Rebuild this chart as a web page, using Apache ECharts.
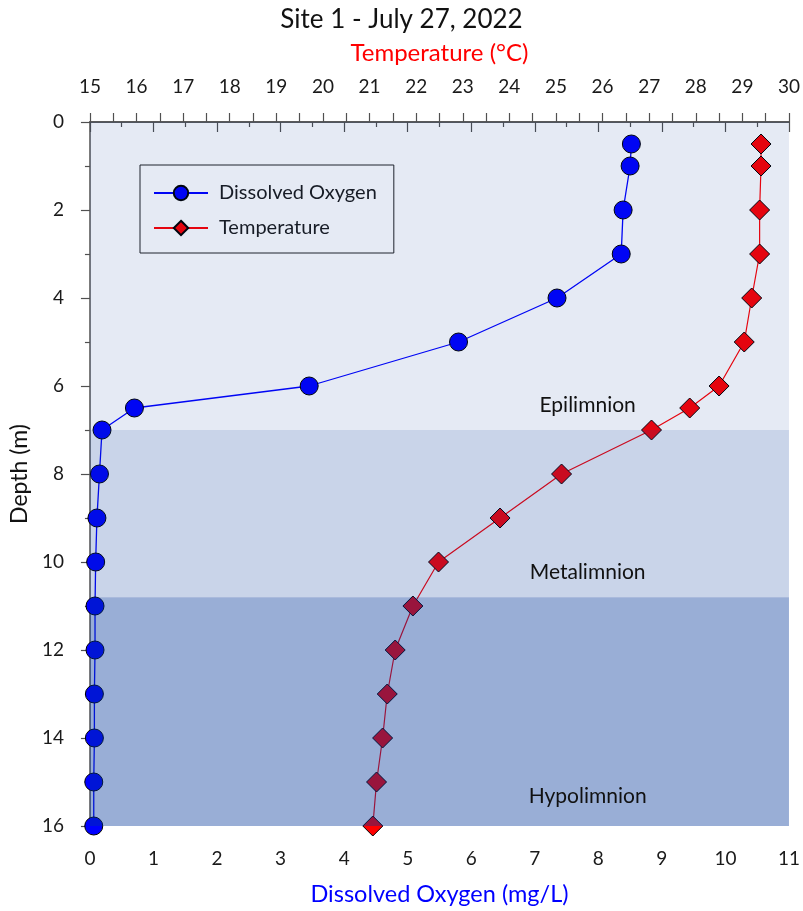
<!DOCTYPE html>
<html>
<head>
<meta charset="utf-8">
<script src="https://cdn.jsdelivr.net/npm/echarts@6/dist/echarts.min.js"></script>
<style>
html,body{margin:0;padding:0;background:#fff;}
#c{width:803px;height:911px;}
</style>
</head>
<body>
<div id="c"></div>
<script>
// Data
const depths = [0.5, 1, 2, 3, 4, 5, 6, 6.5, 7, 8, 9, 10, 11, 12, 13, 14, 15, 16];
const dissolvedOxygen = [8.52, 8.50, 8.39, 8.36, 7.35, 5.80, 3.45, 0.70, 0.19, 0.15, 0.11, 0.09, 0.08, 0.08, 0.07, 0.07, 0.06, 0.06];
const temperature = [29.40, 29.40, 29.37, 29.37, 29.20, 29.04, 28.50, 27.87, 27.05, 25.12, 23.80, 22.48, 21.93, 21.55, 21.38, 21.28, 21.15, 21.07];
const layerNames = ['Epilimnion', 'Metalimnion', 'Hypolimnion'];
const layerTop = [0, 7, 10.8];
const layerBottom = [7, 10.8, 16];
const doTicks = [0, 11, 1];      // min, max, interval
const tempTicks = [15, 30, 1];
const depthTicks = [0, 16, 2];

const layerAlpha = [0.1, 0.21, 0.4];
const layerLabelDist = [14, 14, 19];

const FONT = 'Lato';
const chart = echarts.init(document.getElementById('c'), null, {renderer: 'canvas'});

const axisLine = {show: true, lineStyle: {color: '#505050', width: 1.5}};
const labelStyle = {color: '#1a1a1a', fontSize: 19, fontFamily: FONT};

const option = {
  animation: false,
  backgroundColor: '#ffffff',
  title: {
    text: 'Site 1 - July 27, 2022',
    left: 'center', top: 2,
    textStyle: {fontFamily: FONT, fontSize: 26, fontWeight: 'normal', color: '#111'}
  },
  legend: {
    orient: 'vertical',
    left: 140, top: 165,
    padding: [18, 17, 15, 13],
    itemGap: 15,
    itemWidth: 54, itemHeight: 18,
    borderColor: '#222', borderWidth: 1,
    textStyle: {fontFamily: FONT, fontSize: 20, color: '#1a1a1a', padding: [0, 0, 0, 6]},
    data: ['Dissolved Oxygen', 'Temperature']
  },
  grid: {left: 88, right: 10, top: 122, bottom: 83, containLabel: false},
  xAxis: [
    {
      type: 'value', position: 'bottom',
      min: doTicks[0], max: doTicks[1], interval: doTicks[2],
      name: 'Dissolved Oxygen (mg/L)', nameLocation: 'middle', nameGap: 56,
      nameTextStyle: {color: '#0000ff', fontSize: 23.5, fontFamily: FONT},
      axisLine: axisLine,
      axisTick: {show: true, inside: false, length: 10, lineStyle: {color: '#505050', width: 1.2}},
      minorTick: {show: true, splitNumber: 2, length: 5, lineStyle: {color: '#505050', width: 1.2}},
      axisLabel: Object.assign({margin: 23}, labelStyle),
      splitLine: {show: false}
    },
    {
      type: 'value', position: 'top',
      min: tempTicks[0], max: tempTicks[1], interval: tempTicks[2],
      name: 'Temperature (°C)', nameLocation: 'middle', nameGap: 57,
      nameTextStyle: {color: '#ff0000', fontSize: 24, fontFamily: FONT},
      axisLine: axisLine,
      axisTick: {show: true, inside: false, length: 9, lineStyle: {color: '#505050', width: 1.2}},
      minorTick: {show: true, splitNumber: 2, length: 9, lineStyle: {color: '#505050', width: 1.2}},
      axisLabel: Object.assign({margin: 26}, labelStyle),
      splitLine: {show: false}
    }
  ],
  yAxis: {
    type: 'value', inverse: true,
    min: depthTicks[0], max: depthTicks[1], interval: depthTicks[2],
    name: 'Depth (m)', nameLocation: 'middle', nameGap: 56,
    nameTextStyle: {color: '#111', fontSize: 23, fontFamily: FONT},
    axisLine: axisLine,
    axisTick: {show: true, inside: false, length: 9, lineStyle: {color: '#505050', width: 1.2}},
    minorTick: {show: true, splitNumber: 2, length: 5, lineStyle: {color: '#505050', width: 1.2}},
    axisLabel: Object.assign({margin: 26}, labelStyle),
    splitLine: {show: false}
  },
  series: [
    {
      name: 'Dissolved Oxygen', type: 'line',
      xAxisIndex: 0, yAxisIndex: 0, z: 3,
      data: depths.map((d, i) => [dissolvedOxygen[i], d]),
      symbol: 'circle', symbolSize: 18, clip: false,
      itemStyle: {color: '#0000ff', borderColor: '#000', borderWidth: 1},
      lineStyle: {color: '#0000ff', width: 1.3}
    },
    {
      name: 'Temperature', type: 'line',
      xAxisIndex: 1, yAxisIndex: 0, z: 3,
      data: depths.map((d, i) => [temperature[i], d]),
      symbol: 'diamond', symbolSize: 20, clip: false,
      itemStyle: {color: '#ff0000', borderColor: '#000', borderWidth: 1},
      lineStyle: {color: '#ff0000', width: 1.2}
    },
    {
      name: 'layers', type: 'custom',
      xAxisIndex: 0, yAxisIndex: 0, z: 10, silent: true,
      encode: {x: -1, y: [0, 1]},
      data: layerNames.map((n, i) => [layerTop[i], layerBottom[i], i]),
      renderItem: function (params, api) {
        const cs = params.coordSys;
        const i = api.value(2);
        const y0 = api.coord([0, api.value(0)])[1];
        const y1 = api.coord([0, api.value(1)])[1];
        return {
          type: 'group',
          children: [
            {
              type: 'rect',
              shape: {x: cs.x, y: y0, width: cs.width, height: y1 - y0},
              style: {fill: 'rgba(0,52,152,' + layerAlpha[i] + ')'}
            },
            {
              type: 'text',
              style: {
                text: layerNames[i],
                x: cs.x + cs.width * 0.712,
                y: y1 - layerLabelDist[i],
                textAlign: 'center', textVerticalAlign: 'bottom',
                fontFamily: FONT, fontSize: 21, fill: '#111'
              }
            }
          ]
        };
      }
    }
  ]
};
chart.setOption(option);
</script>
</body>
</html>
